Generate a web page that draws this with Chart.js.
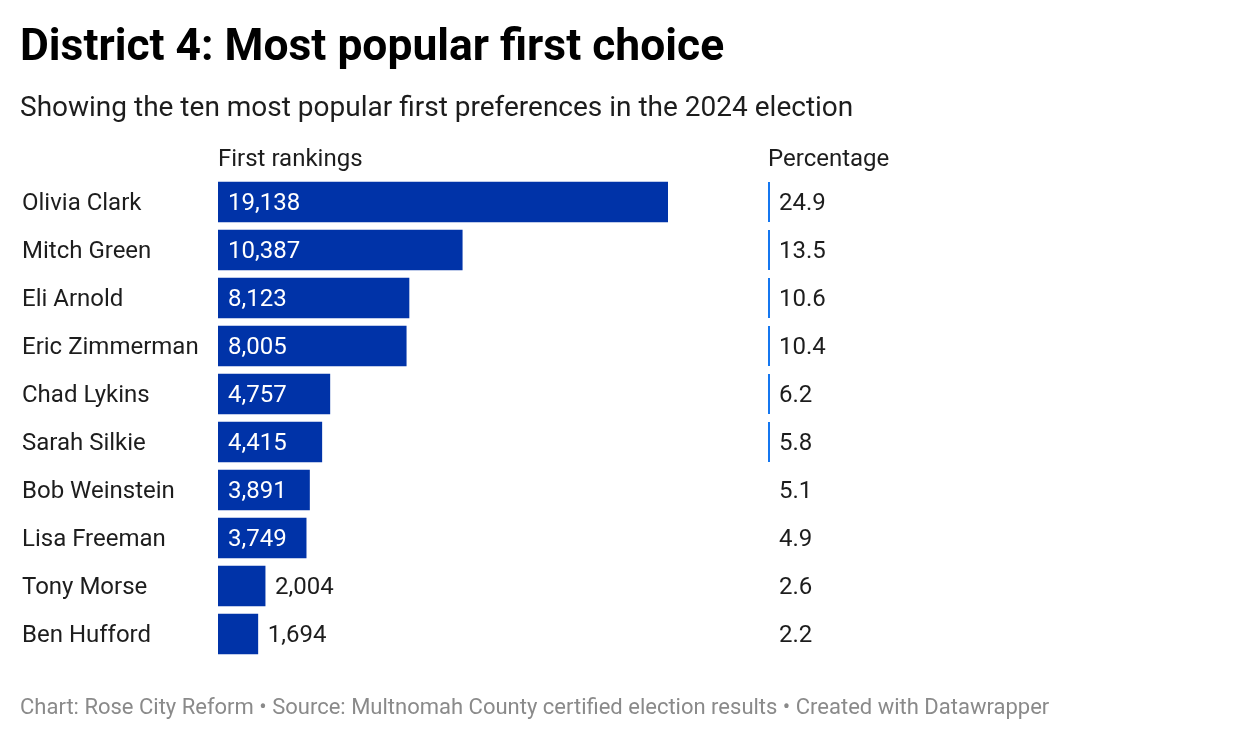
<!DOCTYPE html>
<html>
<head>
<meta charset="utf-8">
<script src="https://cdn.jsdelivr.net/npm/chart.js@4"></script>
<style>
  html, body { margin: 0; padding: 0; background: #fff; }
  body { width: 1240px; height: 740px; position: relative; overflow: hidden; font-family: Roboto, sans-serif; }
  #wrap { position: absolute; left: 0; top: 0; width: 1240px; height: 740px; }
  .t { position: absolute; white-space: nowrap; margin: 0; }
  #title { left: 20px; top: 21px; font-size: 44.4px; font-weight: 700; color: #000; line-height: 48px; }
  #subtitle { left: 20px; top: 91px; font-size: 28px; color: #1d1d1d; line-height: 32px; }
  .hdr { top: 144px; font-size: 24px; color: #1d1d1d; line-height: 28px; }
  #footer { left: 20px; top: 694px; font-size: 22px; color: #8a8a8a; line-height: 26px; }
</style>
</head>
<body>
<div id="wrap"><canvas id="c" width="1240" height="740"></canvas></div>
<div class="t" id="title">District 4: Most popular first choice</div>
<div class="t" id="subtitle">Showing the ten most popular first preferences in the 2024 election</div>
<div class="t hdr" style="left:218px">First rankings</div>
<div class="t hdr" style="left:768px">Percentage</div>
<div class="t" id="footer">Chart: Rose City Reform • Source: Multnomah County certified election results • Created with Datawrapper</div>
<script>
const candidates = ["Olivia Clark", "Mitch Green", "Eli Arnold", "Eric Zimmerman", "Chad Lykins", "Sarah Silkie", "Bob Weinstein", "Lisa Freeman", "Tony Morse", "Ben Hufford"];
const firstRankings = [19138, 10387, 8123, 8005, 4757, 4415, 3891, 3749, 2004, 1694];
const percentages = ["24.9", "13.5", "10.6", "10.4", "6.2", "5.8", "5.1", "4.9", "2.6", "2.2"];
const markedRows = [true, true, true, true, true, true, false, false, false, false];

const fmt = v => v.toLocaleString('en-US');

const tablePlugin = {
  id: 'tableText',
  afterDatasetsDraw(chart) {
    const ctx = chart.ctx;
    const x = chart.scales.x, y = chart.scales.y;
    const meta = chart.getDatasetMeta(0);
    ctx.save();
    ctx.textBaseline = 'alphabetic';
    ctx.font = '24px Roboto, sans-serif';
    candidates.forEach((name, i) => {
      const cy = y.getPixelForValue(i);
      const by = cy + 7.5;
      ctx.fillStyle = '#1d1d1d';
      ctx.textAlign = 'left';
      ctx.fillText(name, 22, by);
      const bar = meta.data[i];
      const label = fmt(firstRankings[i]);
      const w = ctx.measureText(label).width;
      const x0 = x.getPixelForValue(0);
      if (bar.x - x0 > w + 20) {
        ctx.fillStyle = '#ffffff';
        ctx.fillText(label, x0 + 10, by);
      } else {
        ctx.fillStyle = '#1d1d1d';
        ctx.fillText(label, bar.x + 10, by);
      }
      ctx.fillStyle = '#1d1d1d';
      ctx.fillText(percentages[i], 779, by);
      if (markedRows[i]) {
        ctx.fillStyle = '#1577f0';
        ctx.fillRect(768, cy - 20, 2, 40);
      }
    });
    ctx.restore();
  }
};

new Chart(document.getElementById('c'), {
  type: 'bar',
  data: {
    labels: candidates,
    datasets: [{
      data: firstRankings,
      backgroundColor: '#0033a8',
      barThickness: 40,
      borderWidth: 0
    }]
  },
  options: {
    indexAxis: 'y',
    responsive: false,
    animation: false,
    layout: { padding: { left: 218, right: 572, top: 178, bottom: 82 } },
    plugins: { legend: { display: false }, tooltip: { enabled: false } },
    scales: {
      x: { display: false, min: 0, max: 19138, grid: { display: false } },
      y: { display: false, grid: { display: false } }
    }
  },
  plugins: [tablePlugin]
});
</script>
</body>
</html>
